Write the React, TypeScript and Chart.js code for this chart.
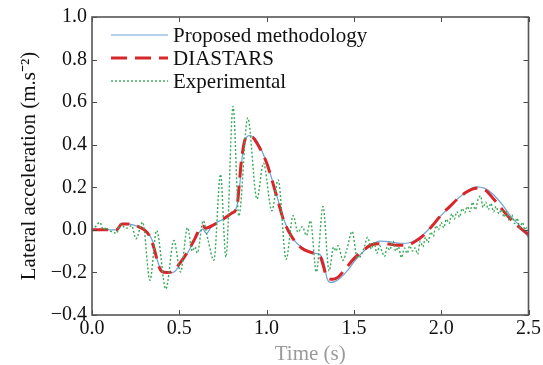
import React, { useEffect, useRef } from "react";
import { Chart, registerables } from "chart.js";

Chart.register(...registerables);

// ---- data (time in s, lateral acceleration in m.s^-2) ----
const proposedTime = [
  0.0, 0.14, 0.17, 0.2, 0.25, 0.3, 0.33, 0.35, 0.37, 0.39, 0.41, 0.44, 0.47, 0.5, 0.55, 0.6, 0.625, 0.635,
  0.655, 0.69, 0.75, 0.8, 0.83, 0.845, 0.86, 0.875, 0.9, 0.92, 0.95, 1.0, 1.05, 1.1, 1.15, 1.2, 1.25, 1.29,
  1.31, 1.33, 1.345, 1.365, 1.39, 1.42, 1.47, 1.5, 1.55, 1.6, 1.65, 1.7, 1.75, 1.8, 1.85, 1.9, 1.95, 2.0,
  2.05, 2.1, 2.15, 2.2, 2.25, 2.3, 2.35, 2.4, 2.45, 2.5,
];
const proposedAccel = [
  0.0, 0.0, 0.027, 0.028, 0.02, 0.0, -0.025, -0.06, -0.13, -0.18, -0.198, -0.202, -0.198, -0.168, -0.105,
  -0.03, 0.0, 0.003, -0.017, 0.022, 0.05, 0.078, 0.112, 0.2, 0.34, 0.415, 0.443, 0.438, 0.41, 0.315, 0.185,
  0.045, -0.04, -0.082, -0.103, -0.112, -0.12, -0.16, -0.225, -0.247, -0.243, -0.228, -0.185, -0.15, -0.105,
  -0.07, -0.053, -0.055, -0.062, -0.063, -0.05, -0.02, 0.022, 0.068, 0.108, 0.15, 0.183, 0.202, 0.195, 0.165,
  0.118, 0.062, 0.018, -0.037,
];

const diastarsTime = [
  0.0, 0.14, 0.17, 0.2, 0.25, 0.3, 0.33, 0.36, 0.38, 0.4, 0.43, 0.46, 0.5, 0.55, 0.59, 0.62, 0.635, 0.65,
  0.7, 0.75, 0.8, 0.83, 0.855, 0.875, 0.895, 0.92, 0.95, 1.0, 1.05, 1.1, 1.15, 1.2, 1.25, 1.29, 1.31, 1.34,
  1.36, 1.38, 1.41, 1.45, 1.5, 1.55, 1.6, 1.65, 1.7, 1.75, 1.8, 1.85, 1.9, 1.95, 2.0, 2.05, 2.1, 2.15, 2.2,
  2.25, 2.3, 2.35, 2.4, 2.45, 2.5,
];
const diastarsAccel = [
  0.0, 0.0, 0.027, 0.028, 0.02, 0.0, -0.03, -0.1, -0.165, -0.195, -0.2, -0.195, -0.16, -0.1, -0.04, 0.012,
  0.018, 0.008, 0.025, 0.05, 0.078, 0.11, 0.32, 0.42, 0.44, 0.435, 0.4, 0.315, 0.18, 0.04, -0.04, -0.085,
  -0.105, -0.115, -0.13, -0.21, -0.23, -0.232, -0.222, -0.185, -0.135, -0.1, -0.07, -0.065, -0.067, -0.072,
  -0.072, -0.055, -0.025, 0.02, 0.07, 0.11, 0.15, 0.18, 0.195, 0.188, 0.145, 0.095, 0.048, 0.01, -0.022,
];

const experimentalTime = [
  0.0, 0.02, 0.045, 0.065, 0.08, 0.1, 0.12, 0.14, 0.164, 0.185, 0.2, 0.227, 0.252, 0.29, 0.332, 0.37, 0.423,
  0.469, 0.507, 0.547, 0.575, 0.59, 0.603, 0.637, 0.665, 0.698, 0.736, 0.767, 0.808, 0.841, 0.892, 0.945,
  0.982, 1.03, 1.066, 1.112, 1.152, 1.18, 1.205, 1.228, 1.251, 1.285, 1.323, 1.358, 1.384, 1.398, 1.409,
  1.438, 1.46, 1.49, 1.518, 1.53, 1.56, 1.578, 1.6, 1.615, 1.632, 1.648, 1.66, 1.676, 1.69, 1.705, 1.724,
  1.74, 1.755, 1.772, 1.79, 1.805, 1.82, 1.835, 1.85, 1.865, 1.88, 1.895, 1.91, 1.925, 1.94, 1.955, 1.97,
  1.985, 2.0, 2.015, 2.03, 2.045, 2.06, 2.075, 2.09, 2.105, 2.12, 2.135, 2.15, 2.165, 2.18, 2.195, 2.21,
  2.225, 2.24, 2.255, 2.27, 2.285, 2.3, 2.315, 2.33, 2.345, 2.36, 2.375, 2.39, 2.405, 2.42, 2.435, 2.45,
  2.465, 2.48, 2.49, 2.5,
];
const experimentalAccel = [
  0.0, 0.015, 0.035, 0.0, 0.01, -0.005, -0.01, -0.016, 0.028, 0.012, 0.008, 0.02, -0.042, 0.036, -0.237,
  -0.003, -0.278, -0.05, -0.198, 0.01, -0.1, -0.08, -0.109, 0.043, -0.05, -0.143, 0.261, -0.128, 0.58, 0.065,
  0.526, 0.145, 0.313, 0.09, 0.235, -0.138, 0.067, -0.011, 0.015, -0.027, 0.043, -0.198, 0.11, -0.193, -0.081,
  -0.1, -0.074, -0.143, -0.09, -0.008, -0.128, -0.13, -0.08, -0.035, -0.09, -0.06, -0.11, -0.075, -0.1,
  -0.125, -0.08, -0.095, -0.053, -0.1, -0.08, -0.13, -0.085, -0.11, -0.075, -0.1, -0.085, -0.115, -0.053,
  -0.08, -0.035, -0.06, -0.01, -0.03, 0.02, 0.0, 0.035, 0.01, 0.05, 0.03, 0.075, 0.05, 0.085, 0.06, 0.1,
  0.08, 0.11, 0.085, 0.13, 0.095, 0.14, 0.16, 0.105, 0.13, 0.095, 0.125, 0.085, 0.11, 0.075, 0.095, 0.06,
  0.085, 0.045, 0.07, 0.03, 0.055, 0.01, 0.035, 0.0, 0.01, -0.01,
];

const seriesLabels = ["Proposed methodology", "DIASTARS", "Experimental"];
const xAxisTitle = "Time (s)";
const yAxisTitle = "Lateral acceleration (m.s⁻²)";

const FONT = "'Liberation Serif', 'Times New Roman', serif";

function toPoints(t: number[], v: number[]) {
  return t.map((x, i) => ({ x, y: v[i] }));
}

const frameTicksPlugin = {
  id: "frameTicks",
  afterDatasetsDraw(chart: any) {
    const { ctx, chartArea: a, scales } = chart;
    const L = 5;
    ctx.save();
    ctx.strokeStyle = "#4a4a4a";
    ctx.lineWidth = 1;
    ctx.beginPath();
    scales.x.ticks.forEach((t: any) => {
      const p = Math.round(scales.x.getPixelForValue(t.value)) + 0.5;
      ctx.moveTo(p, a.bottom);
      ctx.lineTo(p, a.bottom - L);
      ctx.moveTo(p, a.top);
      ctx.lineTo(p, a.top + L);
    });
    scales.y.ticks.forEach((t: any) => {
      const p = Math.round(scales.y.getPixelForValue(t.value)) + 0.5;
      ctx.moveTo(a.left, p);
      ctx.lineTo(a.left + L, p);
      ctx.moveTo(a.right, p);
      ctx.lineTo(a.right - L, p);
    });
    ctx.stroke();
    ctx.lineWidth = 1.6;
    ctx.strokeStyle = "#555555";
    ctx.strokeRect(a.left, a.top, a.right - a.left, a.bottom - a.top);
    ctx.restore();
  },
};

const insideLegendPlugin = {
  id: "insideLegend",
  afterDraw(chart: any) {
    const { ctx, chartArea: a } = chart;
    ctx.save();
    ctx.font = `21px ${FONT}`;
    ctx.textBaseline = "middle";
    ctx.fillStyle = "#111";
    const rows = [18, 41, 64];
    chart.data.datasets.forEach((ds: any, i: number) => {
      const y = a.top + rows[i];
      ctx.save();
      ctx.strokeStyle = ds.borderColor;
      ctx.lineWidth = ds.borderWidth;
      ctx.setLineDash(ds.borderDash || []);
      ctx.beginPath();
      ctx.moveTo(a.left + 19, y);
      ctx.lineTo(a.left + 76, y);
      ctx.stroke();
      ctx.restore();
      ctx.fillText(ds.label, a.left + 81, y + 1);
    });
    ctx.restore();
  },
};

export default function App() {
  const ref = useRef<HTMLCanvasElement>(null);

  useEffect(() => {
    document.body.style.margin = "0";
    const canvas = ref.current;
    if (!canvas) return;
    const chart = new Chart(canvas, {
      type: "line",
      data: {
        datasets: [
          {
            label: seriesLabels[0],
            data: toPoints(proposedTime, proposedAccel),
            borderColor: "#6fa3d6",
            borderWidth: 1.2,
            pointRadius: 0,
            cubicInterpolationMode: "monotone",
            order: 2,
          },
          {
            label: seriesLabels[1],
            data: toPoints(diastarsTime, diastarsAccel),
            borderColor: "#d8262b",
            borderWidth: 3,
            borderDash: [16, 8],
            pointRadius: 0,
            cubicInterpolationMode: "monotone",
            order: 1,
          },
          {
            label: seriesLabels[2],
            data: toPoints(experimentalTime, experimentalAccel),
            borderColor: "#3aaa5a",
            borderWidth: 1.4,
            borderDash: [2, 2],
            pointRadius: 0,
            cubicInterpolationMode: "monotone",
            order: 0,
          },
        ],
      } as any,
      options: {
        animation: false,
        responsive: false,
        parsing: true,
        layout: { padding: { left: 0, right: 14, top: 15, bottom: 0 } },
        plugins: { legend: { display: false }, tooltip: { enabled: false } },
        scales: {
          x: {
            type: "linear",
            min: 0,
            max: 2.5,
            grid: { display: false, drawTicks: false },
            border: { display: false },
            ticks: {
              stepSize: 0.5,
              padding: 2,
              color: "#111",
              font: { family: FONT, size: 20 },
              callback: (v: any) => Number(v).toFixed(1),
            },
            title: {
              display: true,
              text: xAxisTitle,
              color: "#9a9a9a",
              font: { family: FONT, size: 21, lineHeight: 1.0 },
              padding: { top: 0, bottom: 0 },
            },
            afterFit: (s: any) => {
              s.height = 50;
            },
          },
          y: {
            type: "linear",
            min: -0.4,
            max: 1.0,
            grid: { display: false, drawTicks: false },
            border: { display: false },
            ticks: {
              stepSize: 0.2,
              padding: 5,
              color: "#111",
              font: { family: FONT, size: 20 },
              callback: (v: any) => {
                const n = Number(v);
                const s = Math.abs(n).toFixed(1);
                return n < -1e-9 ? "\u2212" + s : s;
              },
            },
            title: {
              display: true,
              text: yAxisTitle,
              color: "#111",
              font: { family: FONT, size: 21 },
              padding: { top: 17, bottom: 0 },
            },
            afterFit: (s: any) => {
              s.width = 92;
            },
          },
        },
      } as any,
      plugins: [frameTicksPlugin, insideLegendPlugin],
    });
    return () => chart.destroy();
  }, []);

  return (
    <div style={{ width: 543, height: 365, background: "#fff" }}>
      <canvas ref={ref} width={543} height={365} style={{ display: "block" }} />
    </div>
  );
}
